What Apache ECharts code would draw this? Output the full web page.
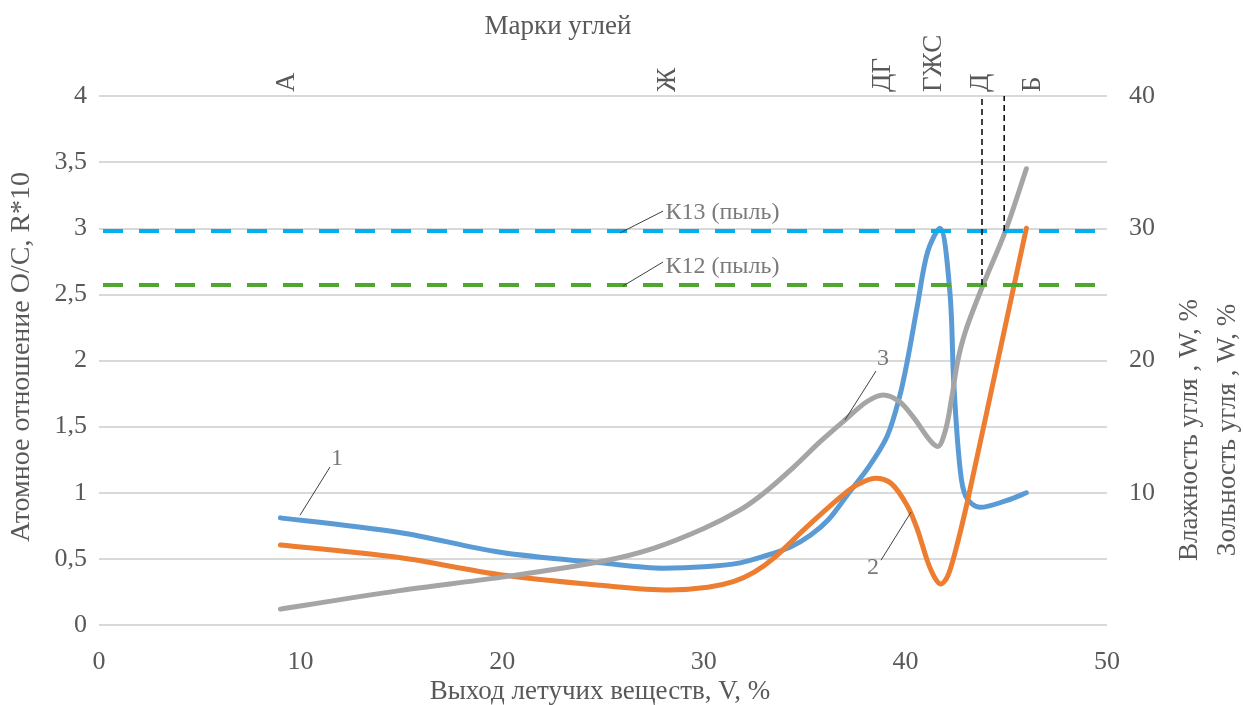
<!DOCTYPE html>
<html>
<head>
<meta charset="utf-8">
<script src="https://cdn.jsdelivr.net/npm/echarts@6/dist/echarts.min.js"></script>
<style>
html,body{margin:0;padding:0;background:#fff;}
#c{width:1243px;height:705px;}
</style>
</head>
<body>
<div id="c"></div>
<script>
// ---- data ----
const gradeNames = ['А', 'Ж', 'ДГ', 'ГЖС', 'Д', 'Б'];
const gradeV = [9.3, 28.2, 38.9, 41.4, 43.75, 46.3];

const s1X = [9, 14.9, 19.9, 24.9, 28, 30, 31.8, 33, 34.3, 35.3, 36.2, 37.1, 38.2, 39.1, 39.7, 40.1, 40.6, 41.1, 41.7, 42.2, 42.4, 42.7, 43.0, 43.7, 45, 46];
const s1Y = [0.81, 0.70, 0.55, 0.47, 0.43, 0.44, 0.47, 0.52, 0.59, 0.68, 0.8, 0.98, 1.2, 1.43, 1.72, 2.0, 2.42, 2.82, 3.0, 2.53, 1.83, 1.2, 0.97, 0.89, 0.94, 1.0];

const s2X = [9, 14.9, 19.9, 24.9, 28.3, 30.2, 31.5, 32.5, 33.5, 35.1, 36.8, 37.5, 38.5, 39.3, 40.1, 40.6, 41.1, 41.45, 41.75, 42.1, 42.5, 43.1, 44.5, 46];
const s2Y = [0.605, 0.51, 0.38, 0.30, 0.265, 0.285, 0.33, 0.40, 0.51, 0.74, 0.97, 1.05, 1.11, 1.07, 0.9, 0.72, 0.48, 0.36, 0.31, 0.37, 0.57, 0.95, 1.94, 3.0];

const s3X = [9, 14.9, 19.9, 24.9, 27.5, 30, 31.8, 33.0, 34.5, 35.8, 37.0, 38.1, 38.9, 39.7, 40.4, 41.2, 41.6, 42.0, 42.3, 42.6, 43.0, 43.85, 44.94, 46];
const s3Y = [1.2, 2.6, 3.6, 4.8, 5.8, 7.3, 8.7, 10.0, 12.0, 13.9, 15.5, 16.9, 17.4, 16.9, 15.7, 14.0, 13.5, 14.8, 17.2, 20.0, 22.3, 25.7, 29.7, 34.5];

const k13 = 2.98;
const k12 = 2.57;
const vLine1 = [[43.8, 2.57], [43.8, 4]];
const vLine2 = [[44.9, 2.98], [44.9, 4]];

const leader1 = [[9.97, 0.83], [11.46, 1.195]];
const leader2 = [[40.28, 0.854], [38.79, 0.49]];
const leader3 = [[37.0, 1.55], [38.54, 1.92]];
const leaderK13 = [[25.84, 2.964], [27.98, 3.13]];
const leaderK12 = [[25.99, 2.563], [27.98, 2.745]];

const numLabels = [[11.8, 1.26, '1'], [38.39, 0.43, '2'], [38.89, 2.01, '3']];
const kLabels = [[28.1, 3.115, 'К13 (пыль)'], [28.1, 2.707, 'К12 (пыль)']];

// ---- chart ----
const FONT = '"Liberation Serif", "Times New Roman", serif';
const TXT = '#595959';
const zip = (xs, ys) => xs.map((x, i) => [x, ys[i]]);

const chart = echarts.init(document.getElementById('c'), null, {renderer: 'canvas'});

// Smooth (Excel-like) cubic path through pixel points
function buildPath(P) {
  const n = P.length;
  const len = (a, b) => Math.hypot(b[0] - a[0], b[1] - a[1]);
  const T = P.map((p, i) => {
    const a = P[Math.max(i - 1, 0)], b = P[Math.min(i + 1, n - 1)];
    let tx = b[0] - a[0], ty = b[1] - a[1];
    if (i > 0 && i < n - 1) {
      const d0 = p[1] - a[1], d1 = b[1] - p[1];
      if (d0 * d1 <= 0) ty = 0;
    }
    return [tx, ty];
  });
  const seg = [];
  for (let i = 0; i < n - 1; i++) seg.push(len(P[i], P[i + 1]));
  const dPrev = i => (i > 0 ? seg[i - 1] : seg[0]);
  const dNext = i => (i < n - 1 ? seg[i] : seg[n - 2]);
  let d = 'M' + P[0][0] + ' ' + P[0][1];
  for (let i = 0; i < n - 1; i++) {
    const p1 = P[i], p2 = P[i + 1];
    const r1 = dNext(i) / (dPrev(i) + dNext(i)) / 3;
    const r2 = dPrev(i + 1) / (dPrev(i + 1) + dNext(i + 1)) / 3;
    const c1 = [p1[0] + T[i][0] * r1, p1[1] + T[i][1] * r1];
    const c2 = [p2[0] - T[i + 1][0] * r2, p2[1] - T[i + 1][1] * r2];
    d += ' C' + c1[0] + ' ' + c1[1] + ' ' + c2[0] + ' ' + c2[1] + ' ' + p2[0] + ' ' + p2[1];
  }
  return d;
}

function curveSeries(name, xs, ys, color, yAxisIndex) {
  const pts = zip(xs, ys);
  return {
    type: 'custom', name: name, yAxisIndex: yAxisIndex, data: pts, z: 3, clip: false,
    encode: {x: 0, y: 1}, silent: true,
    renderItem: function (params, api) {
      if (params.dataIndex !== 0) return null;
      const px = pts.map(p => api.coord(p));
      return {type: 'path', shape: {pathData: buildPath(px)},
        style: {stroke: color, lineWidth: 5, fill: 'none', lineCap: 'round', lineJoin: 'round'}};
    }
  };
}

function leaderSeries(d) {
  return {type: 'line', data: d, symbol: 'none', silent: true, z: 6,
    lineStyle: {color: '#404040', width: 1}, animation: false};
}

const option = {
  animation: false,
  backgroundColor: '#fff',
  grid: {left: 99, right: 136, top: 96, bottom: 80, containLabel: false},
  xAxis: [{
    type: 'value', min: 0, max: 50, interval: 10, position: 'bottom',
    axisLine: {show: false}, axisTick: {show: false}, splitLine: {show: false},
    axisLabel: {fontFamily: FONT, fontSize: 26, color: TXT, margin: 24}
  }, {
    type: 'value', min: 0, max: 50, position: 'top',
    axisLine: {show: false}, axisTick: {show: false}, splitLine: {show: false},
    axisLabel: {
      customValues: gradeV, rotate: 90, margin: 4,
      fontFamily: FONT, fontSize: 27, color: TXT,
      formatter: v => { const i = gradeV.findIndex(g => Math.abs(g - v) < 1e-6); return i >= 0 ? gradeNames[i] : ''; }
    }
  }],
  yAxis: [{
    type: 'value', min: 0, max: 4, interval: 0.5, position: 'left',
    axisLine: {show: false}, axisTick: {show: false},
    splitLine: {lineStyle: {color: '#d9d9d9', width: 2}},
    axisLabel: {fontFamily: FONT, fontSize: 26, color: TXT, margin: 12,
      formatter: v => String(v).replace('.', ',')}
  }, {
    type: 'value', min: 0, max: 40, interval: 10, position: 'right',
    axisLine: {show: false}, axisTick: {show: false}, splitLine: {show: false},
    axisLabel: {fontFamily: FONT, fontSize: 26, color: TXT, margin: 22, showMinLabel: false}
  }],
  graphic: [
    {type: 'text', x: 558, y: 27, style: {text: 'Марки углей', font: '27px ' + FONT, fill: TXT, align: 'center', verticalAlign: 'middle'}},
    {type: 'text', x: 600, y: 692, style: {text: 'Выход летучих веществ, V, %', font: '27px ' + FONT, fill: TXT, align: 'center', verticalAlign: 'middle'}},
    {type: 'text', x: 22, y: 357, rotation: Math.PI / 2, style: {text: 'Атомное отношение O/C, R*10', font: '28px ' + FONT, fill: TXT, align: 'center', verticalAlign: 'middle'}},
    {type: 'text', x: 1190, y: 430, rotation: Math.PI / 2, style: {text: 'Влажность угля , W, %', font: '27px ' + FONT, fill: TXT, align: 'center', verticalAlign: 'middle'}},
    {type: 'text', x: 1228, y: 430, rotation: Math.PI / 2, style: {text: 'Зольность угля , W, %', font: '27px ' + FONT, fill: TXT, align: 'center', verticalAlign: 'middle'}}
  ],
  series: [
    curveSeries('1', s1X, s1Y, '#5b9bd5', 0),
    curveSeries('2', s2X, s2Y, '#ed7d31', 0),
    curveSeries('3', s3X, s3Y, '#a5a5a5', 1),
    {name: 'K13', type: 'line', data: [[0, k13], [50, k13]], symbol: 'none', z: 4,
      lineStyle: {color: '#00b0f0', width: 4, type: [20, 16], dashOffset: -4}},
    {name: 'K12', type: 'line', data: [[0, k12], [50, k12]], symbol: 'none', z: 4,
      lineStyle: {color: '#4ea72e', width: 4, type: [20, 16], dashOffset: -4}},
    {name: 'v1', type: 'line', data: vLine1, symbol: 'none', z: 5,
      lineStyle: {color: '#000', width: 1.5, type: [6, 4]}},
    {name: 'v2', type: 'line', data: vLine2, symbol: 'none', z: 5,
      lineStyle: {color: '#000', width: 1.5, type: [6, 4]}},
    leaderSeries(leader1), leaderSeries(leader2), leaderSeries(leader3),
    leaderSeries(leaderK13), leaderSeries(leaderK12),
    {type: 'scatter', data: numLabels, symbolSize: 0, z: 7, silent: true,
      label: {show: true, position: 'inside', formatter: p => p.data[2], fontFamily: FONT, fontSize: 24, color: TXT}},
    {type: 'scatter', data: kLabels, symbolSize: 0, z: 7, silent: true,
      label: {show: true, position: 'right', distance: 0, formatter: p => p.data[2], fontFamily: FONT, fontSize: 24, color: TXT}}
  ]
};
chart.setOption(option);
</script>
</body>
</html>
